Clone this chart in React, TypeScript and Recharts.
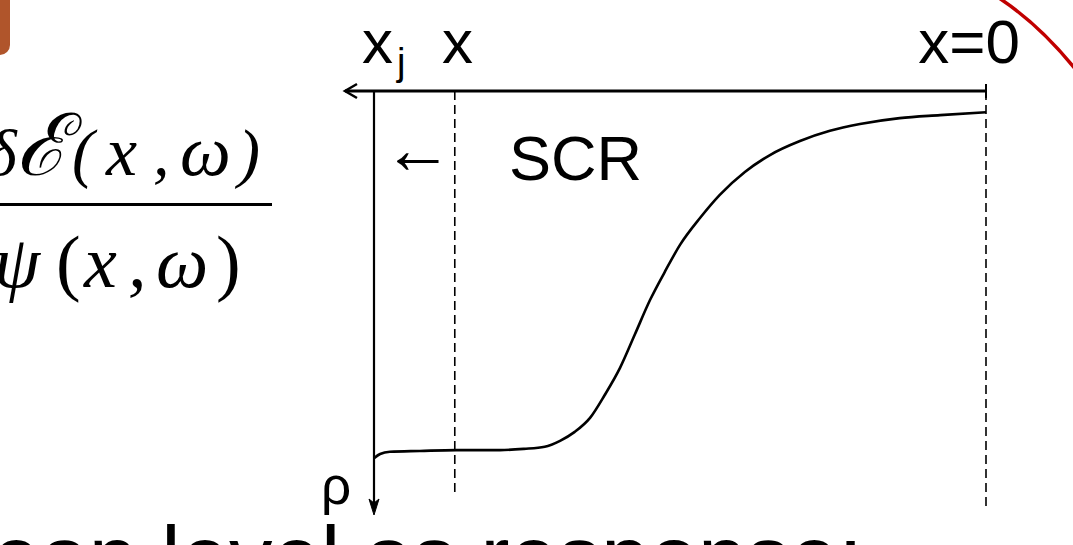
import React from 'react';
import { LineChart, Line, XAxis, YAxis, ReferenceLine } from 'recharts';

// depth measured from x=0 (surface) towards the junction x_j (=100)
const depth = [100, 99.0, 97.4, 92.5, 86.6, 79.4, 75.5, 72.1, 69.6, 67.2, 64.7, 62.3, 59.8, 57.4, 54.9, 52.5, 50.0, 46.7, 43.5, 39.4, 35.3, 30.4, 25.5, 20.6, 14.1, 7.5, 0];
// charge density rho (increasing downwards)
const rho = [86.6, 85.6, 85.1, 84.9, 84.7, 84.7, 84.4, 83.9, 82.5, 80.4, 77.1, 71.7, 65.3, 57.5, 49.3, 42.7, 36.3, 29.9, 24.5, 19.1, 15.1, 11.8, 9.4, 7.8, 6.4, 5.7, 5.0];

const xjDepth = 100;
const xDepth = 86.8;
const surfaceDepth = 0;
const axisStartDepth = 104.74;

const labelXj = 'x';
const labelJ = 'j';
const labelX = 'x';
const labelX0 = 'x=0';
const labelScr = 'SCR';
const labelArrow = '←';
const labelRho = 'ρ';
const numeratorParts = ['δ', 'ℰ', '(', 'x', ',', 'ω', ')'];
const denominatorParts = ['ψ', '(', 'x', ',', 'ω', ')'];
const bottomText = 'ean level as response:';

const data = depth.map((d, i) => ({ d, rho: rho[i] }));

const sans = '"Liberation Sans", Arial, sans-serif';
const serif = '"Liberation Serif", "DejaVu Serif", serif';

const TopAxisShape = (p: any) => (
  <g>
    <line x1={p.x1} y1={p.y1} x2={p.x2} y2={p.y2} stroke="#000" strokeWidth={3} />
    <polyline
      points={`${p.x1 + 12},${p.y1 - 7} ${p.x1},${p.y1} ${p.x1 + 12},${p.y1 + 7}`}
      fill="none"
      stroke="#000"
      strokeWidth={2.5}
    />
  </g>
);

const DownAxisShape = (p: any) => (
  <g>
    <line x1={p.x1} y1={p.y1} x2={p.x2} y2={p.y2 - 6} stroke="#000" strokeWidth={2.2} />
    <path
      d={`M ${p.x2} ${p.y2} L ${p.x2 - 5} ${p.y2 - 16} L ${p.x2} ${p.y2 - 12} L ${p.x2 + 5} ${p.y2 - 16} Z`}
      fill="#000"
      stroke="#000"
      strokeWidth={1}
    />
  </g>
);

export default function App() {
  return (
    <div style={{ position: 'relative', width: 1073, height: 545, overflow: 'hidden', background: '#fff' }}>
      <style>{'body{margin:0;background:#fff;}'}</style>
      <svg width={1073} height={545} style={{ position: 'absolute', left: 0, top: 0 }}>
        <rect x={-30} y={-30} width={40} height={85} rx={10} ry={10} fill="#B0552B" />
        <path d="M 999 -2 Q 1040 25 1076 70" fill="none" stroke="#C00000" strokeWidth={3.5} />
        <text y={175} fontFamily={serif} fontStyle="italic" fontSize={66} fill="#000">
          <tspan x={-14}>{numeratorParts[0]}</tspan>
          <tspan x={16} fontSize={86}>{numeratorParts[1]}</tspan>
          <tspan x={72}>{numeratorParts[2]}</tspan>
          <tspan x={106} fontSize={70}>{numeratorParts[3]}</tspan>
          <tspan x={153}>{numeratorParts[4]}</tspan>
          <tspan x={180} fontSize={72}>{numeratorParts[5]}</tspan>
          <tspan x={238}>{numeratorParts[6]}</tspan>
        </text>
        <rect x={0} y={203} width={272} height={3} fill="#000" />
        <text y={287} fontFamily={serif} fontSize={74} fill="#000">
          <tspan x={-6} fontStyle="italic">{denominatorParts[0]}</tspan>
          <tspan x={56}>{denominatorParts[1]}</tspan>
          <tspan x={84} fontStyle="italic">{denominatorParts[2]}</tspan>
          <tspan x={128} fontStyle="italic">{denominatorParts[3]}</tspan>
          <tspan x={156} fontStyle="italic">{denominatorParts[4]}</tspan>
          <tspan x={216}>{denominatorParts[5]}</tspan>
        </text>
        <text x={-8} y={587} fontFamily={sans} fontSize={87} fill="#000">
          {bottomText}
        </text>
        <text x={362} y={63} fontFamily={sans} fontSize={62} fill="#000">
          {labelXj}
        </text>
        <text x={397} y={75} fontFamily={sans} fontSize={38} fill="#000">
          {labelJ}
        </text>
        <text x={442} y={63} fontFamily={sans} fontSize={62} fill="#000">
          {labelX}
        </text>
        <text x={1020} y={63} textAnchor="end" fontFamily={sans} fontSize={62} fill="#000">
          {labelX0}
        </text>
        <text x={509} y={180} fontFamily={sans} fontSize={63} fill="#000">
          {labelScr}
        </text>
        <text x={418} y={173} textAnchor="middle" fontFamily={sans} fontSize={70} fill="#000">
          {labelArrow}
        </text>
        <text x={321} y={504} fontFamily={sans} fontSize={53} fill="#000">
          {labelRho}
        </text>
      </svg>
      <div style={{ position: 'absolute', left: 0, top: 0 }}>
        <LineChart width={1073} height={545} data={data} margin={{ top: 91, right: 87, bottom: 30, left: 374 }}>
          <XAxis type="number" dataKey="d" domain={[0, 100]} reversed hide allowDataOverflow />
          <YAxis type="number" domain={[0, 100]} reversed hide allowDataOverflow />
          <ReferenceLine
            segment={[{ x: axisStartDepth, y: 0 }, { x: surfaceDepth, y: 0 }]}
            ifOverflow="visible"
            shape={TopAxisShape}
          />
          <ReferenceLine
            segment={[{ x: surfaceDepth, y: -1.65 }, { x: surfaceDepth, y: 1.65 }]}
            ifOverflow="visible"
            stroke="#000"
            strokeWidth={2}
          />
          <ReferenceLine
            segment={[{ x: xjDepth, y: 0 }, { x: xjDepth, y: 100 }]}
            ifOverflow="visible"
            shape={DownAxisShape}
          />
          <ReferenceLine
            segment={[{ x: xDepth, y: 0 }, { x: xDepth, y: 95.3 }]}
            ifOverflow="visible"
            stroke="#000"
            strokeWidth={1.6}
            strokeDasharray="9 5"
          />
          <ReferenceLine
            segment={[{ x: surfaceDepth, y: 0 }, { x: surfaceDepth, y: 98.3 }]}
            ifOverflow="visible"
            stroke="#000"
            strokeWidth={1.6}
            strokeDasharray="9 5"
          />
          <Line
            type="monotone"
            dataKey="rho"
            stroke="#000"
            strokeWidth={2.6}
            dot={false}
            isAnimationActive={false}
          />
        </LineChart>
      </div>
    </div>
  );
}
